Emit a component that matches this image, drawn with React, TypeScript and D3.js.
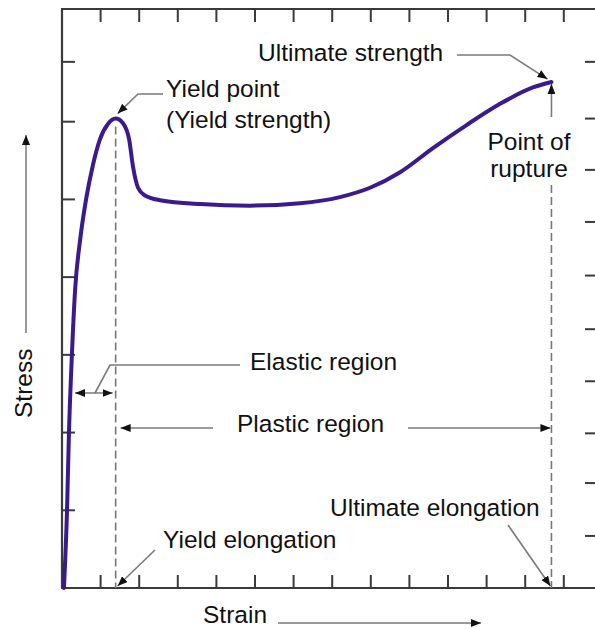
import React from "react";
import * as d3 from "d3";

// Stress–strain curve (arbitrary units)
const strain = [0.05, 0.13, 0.18, 0.26, 0.34, 0.47, 0.62, 0.8, 0.98, 1.19, 1.39, 1.58, 1.74, 1.84, 1.97, 2.15, 2.54, 3.58, 4.87, 6.17, 7.2, 7.98, 8.76, 9.61, 10.49, 11.35, 12.2, 12.68];
const stress = [0, 1.0, 1.99, 3.04, 3.84, 4.48, 4.99, 5.44, 5.77, 5.97, 6.04, 5.98, 5.77, 5.42, 5.15, 5.05, 4.99, 4.94, 4.92, 4.95, 5.03, 5.15, 5.35, 5.66, 5.96, 6.23, 6.44, 6.51];

const xTicks = [1, 2, 3, 4, 5, 6, 7, 8, 9, 10, 11, 12, 13];
const leftTicks = [1, 2, 3, 4, 5, 6, 6.77];
const rightTicks = [0.67, 1.35, 1.99, 2.66, 3.33, 4.02, 4.71, 5.38, 6.04, 6.77];

const yieldStrain = 1.39;
const yieldStress = 6.04;
const ultimateStrain = 12.68;
const ultimateStress = 6.51;

const W = 595;
const H = 630;

export default function App() {
  const xs = d3.scaleLinear().domain([0, 13.86]).range([62, 597]);
  const ys = d3.scaleLinear().domain([0, 7.45]).range([588, 9]);
  const pts: [number, number][] = strain.map((s, i) => [s, stress[i]]);
  const line = d3
    .line<[number, number]>()
    .x((d) => xs(d[0]))
    .y((d) => ys(d[1]))
    .curve(d3.curveMonotoneX);

  const axisColor = "#3a3a3a";
  const leader = "#7a7a7a";
  const font = "'Liberation Sans', Arial, Helvetica, sans-serif";
  const fs = 24.5;
  const x0 = xs(0);
  const y0 = ys(0);
  const yTop = ys(7.45);
  const xRight = xs(13.86);
  const yx = xs(yieldStrain);
  const ux = xs(ultimateStrain);
  const py = ys(yieldStress);
  const uy = ys(ultimateStress);

  return (
    <svg
      width={W}
      height={H}
      viewBox={`0 0 ${W} ${H}`}
      style={{ position: "absolute", left: 0, top: 0, display: "block", background: "#fff" }}
    >
      <defs>
        <marker id="ah" viewBox="0 0 10 8" refX="10" refY="4" markerWidth="10" markerHeight="8" markerUnits="userSpaceOnUse" orient="auto-start-reverse">
          <path d="M0,0 L10,4 L0,8 Z" fill="#111" />
        </marker>
      </defs>
      <rect x={0} y={0} width={W} height={H} fill="#fff" />

      {/* frame */}
      <line x1={x0} y1={yTop} x2={x0} y2={y0} stroke={axisColor} strokeWidth={2.2} />
      <line x1={x0 - 1} y1={y0} x2={xRight} y2={y0} stroke={axisColor} strokeWidth={2.2} />
      <line x1={x0 - 1} y1={yTop} x2={xRight} y2={yTop} stroke={axisColor} strokeWidth={2.2} />
      <line x1={xRight} y1={yTop} x2={xRight} y2={y0} stroke={axisColor} strokeWidth={2.2} />

      {/* ticks */}
      {xTicks.map((t) => (
        <g key={"x" + t}>
          <line x1={xs(t)} x2={xs(t)} y1={y0} y2={y0 - 13} stroke={axisColor} strokeWidth={2} />
          <line x1={xs(t)} x2={xs(t)} y1={yTop} y2={yTop + 13} stroke={axisColor} strokeWidth={2} />
        </g>
      ))}
      {leftTicks.map((t) => (
        <line key={"l" + t} x1={x0} x2={x0 + 13} y1={ys(t)} y2={ys(t)} stroke={axisColor} strokeWidth={2} />
      ))}
      {rightTicks.map((t) => (
        <line key={"r" + t} x1={xRight} x2={xRight - 12} y1={ys(t)} y2={ys(t)} stroke={axisColor} strokeWidth={2} />
      ))}

      {/* dashed guide lines */}
      <line x1={yx} x2={yx} y1={py + 8} y2={y0} stroke="#777" strokeWidth={1.6} strokeDasharray="8,4" />
      <line x1={ux} x2={ux} y1={185} y2={y0} stroke="#777" strokeWidth={1.6} strokeDasharray="8,4" />

      {/* curve */}
      <path d={line(pts) || ""} fill="none" stroke="#3b1a8f" strokeWidth={4} strokeLinejoin="round" strokeLinecap="round" />

      {/* leaders */}
      <polyline points={`163,94 138,94 ${yx + 2},${py - 5}`} fill="none" stroke={leader} strokeWidth={1.6} markerEnd="url(#ah)" />
      <polyline points={`457,55 510,55 ${ux - 4},${uy - 3}`} fill="none" stroke={leader} strokeWidth={1.6} markerEnd="url(#ah)" />
      <line x1={ux} y1={117} x2={ux} y2={uy + 2} stroke={leader} strokeWidth={1.6} markerEnd="url(#ah)" />

      <polyline points="240,365 110,365 95,393" fill="none" stroke={leader} strokeWidth={1.6} />
      <line x1={75} y1={393} x2={yx - 3} y2={393} stroke={leader} strokeWidth={1.6} markerStart="url(#ah)" markerEnd="url(#ah)" />

      <line x1={213} y1={428} x2={yx + 5} y2={428} stroke={leader} strokeWidth={1.6} markerEnd="url(#ah)" />
      <line x1={408} y1={428} x2={ux - 1} y2={428} stroke={leader} strokeWidth={1.6} markerEnd="url(#ah)" />

      <line x1={155} y1={550} x2={yx + 2} y2={y0 - 2} stroke={leader} strokeWidth={1.6} markerEnd="url(#ah)" />
      <line x1={508} y1={525} x2={ux - 1} y2={y0 - 2} stroke={leader} strokeWidth={1.6} markerEnd="url(#ah)" />

      <line x1={26} y1={333} x2={26} y2={135} stroke="#999" strokeWidth={2} markerEnd="url(#ah)" />
      <line x1={278} y1={623} x2={481} y2={623} stroke="#999" strokeWidth={2} markerEnd="url(#ah)" />

      {/* labels */}
      <g fontFamily={font} fontSize={fs} fill="#111">
        <text x={166} y={97}>Yield point</text>
        <text x={166} y={128}>(Yield strength)</text>
        <text x={258} y={61}>Ultimate strength</text>
        <text x={529} y={150} textAnchor="middle">Point of</text>
        <text x={529} y={177} textAnchor="middle">rupture</text>
        <text x={250} y={370}>Elastic region</text>
        <text x={237} y={432}>Plastic region</text>
        <text x={163} y={548}>Yield elongation</text>
        <text x={330} y={516}>Ultimate elongation</text>
        <text x={203} y={623}>Strain</text>
        <text transform="translate(32,418) rotate(-90)">Stress</text>
      </g>
    </svg>
  );
}
